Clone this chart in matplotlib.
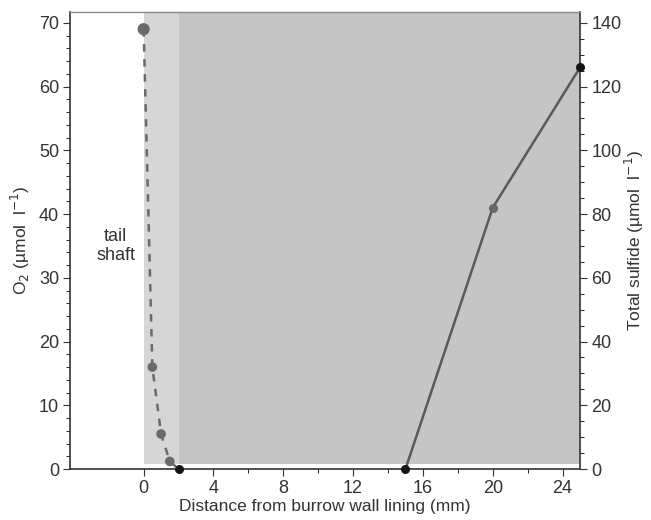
import matplotlib
matplotlib.use("Agg")
import matplotlib.pyplot as plt
from matplotlib.ticker import MultipleLocator, FixedLocator

# data
o2_dist = [0.0, 0.5, 1.0, 1.5, 2.0]
o2_val = [69, 16, 5.5, 1.2, 0]
sulf_dist = [15, 20, 25]
sulf_val = [0, 82, 126]

plt.rcParams['font.family'] = ['Liberation Sans', 'DejaVu Sans']
plt.rcParams['font.size'] = 13

fig = plt.figure(figsize=(6.51, 5.2), dpi=100)
ax = fig.add_axes([0.108, 0.098, 0.783, 0.879])

ax.axvspan(0, 2, ymin=0.01, color='#d6d6d6', lw=0, zorder=0)
ax.axvspan(2, 25, ymin=0.01, color='#c5c5c5', lw=0, zorder=0)

ax.plot(o2_dist, o2_val, ls=(0, (3, 3)), color='#6a6a6a', lw=1.8, zorder=2)
ax.scatter(o2_dist[:-1], o2_val[:-1], s=[60, 35, 35, 35], color='#6a6a6a', zorder=3)
ax.scatter(o2_dist[-1:], o2_val[-1:], s=30, color='#151515', zorder=3, clip_on=False)

ax.set_xlim(-4.2, 25)
ax.set_ylim(0, 71.7)
ax.set_xticks([0, 4, 8, 12, 16, 20, 24])
ax.xaxis.set_minor_locator(FixedLocator([2, 6, 10, 14, 18, 22]))
ax.yaxis.set_major_locator(MultipleLocator(10))
ax.yaxis.set_minor_locator(MultipleLocator(2))
ax.set_xlabel('Distance from burrow wall lining (mm)', labelpad=1, color='#333333',
              fontsize=12.5)
ax.set_ylabel('O$_2$ (µmol  l$^{-1}$)', color='#333333', labelpad=5, fontsize=12.5)
ax.tick_params(colors='#333333', length=5, pad=3)
ax.tick_params(which='minor', length=3)
for s in ['left', 'bottom', 'right']:
    ax.spines[s].set_color('#333333')
    ax.spines[s].set_linewidth(1.2)
ax.spines['top'].set_color('#888888')
ax.spines['top'].set_linewidth(1.0)

ax.text(-1.6, 35, 'tail\nshaft', ha='center', va='center', color='#333333',
        linespacing=1.1)

ax2 = ax.twinx()
ax2.plot(sulf_dist, sulf_val, color='#5a5a5a', lw=1.8, zorder=2)
ax2.scatter([sulf_dist[1]], [sulf_val[1]], s=30, color='#666666', zorder=3)
ax2.scatter([sulf_dist[0], sulf_dist[2]], [sulf_val[0], sulf_val[2]], s=30,
            color='#151515', zorder=3, clip_on=False)
ax2.set_ylim(0, 143.4)
ax2.yaxis.set_major_locator(MultipleLocator(20))
ax2.yaxis.set_minor_locator(MultipleLocator(5))
ax2.set_ylabel('Total sulfide (µmol  l$^{-1}$)', color='#333333', labelpad=1,
               fontsize=12.5)
ax2.tick_params(colors='#333333', length=5, pad=3)
ax2.tick_params(which='minor', length=3)
for s in ax2.spines.values():
    s.set_visible(False)

fig.savefig('out.png', dpi=100)
